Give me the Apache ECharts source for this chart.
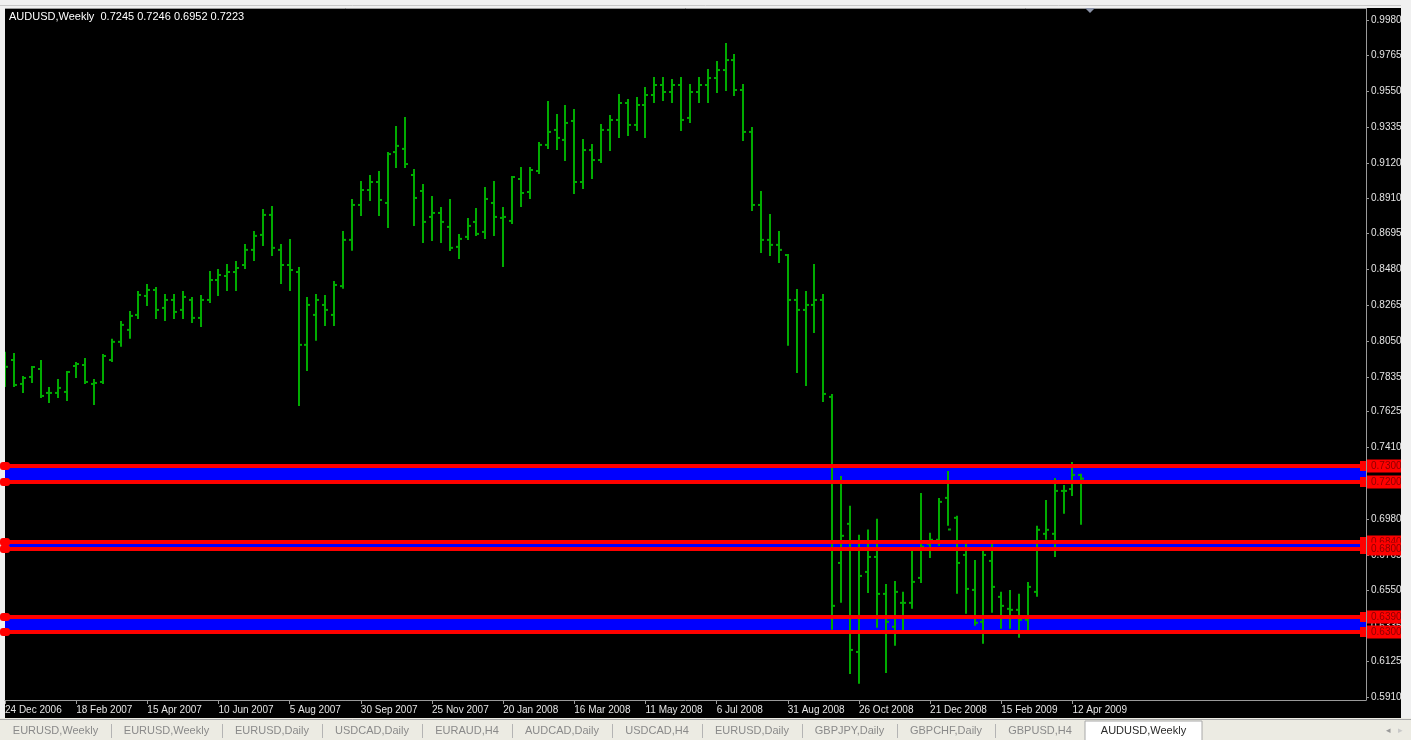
<!DOCTYPE html>
<html>
<head>
<meta charset="utf-8">
<title>AUDUSD,Weekly</title>
<script src="https://cdn.jsdelivr.net/npm/echarts@6/dist/echarts.min.js"></script>
<style>
  html, body { margin: 0; padding: 0; background: #f0f0f0; }
  #chart { width: 1411px; height: 740px; }
</style>
</head>
<body>
<div id="chart"></div>
<script>
// ---- instrument ----
const symbolName = 'AUDUSD';
const periodName = 'Weekly';

// ---- weekly bars, first bar = week of 24 Dec 2006 ----
const opens = [
  0.7880, 0.7936, 0.7792, 0.7834, 0.7882, 0.7738, 0.7738, 0.7744, 0.7900, 0.7906,
  0.7792, 0.7804, 0.7936, 0.8045, 0.8117, 0.8207, 0.8321, 0.8357, 0.8249, 0.8297,
  0.8237, 0.8297, 0.8189, 0.8297, 0.8417, 0.8441, 0.8465, 0.8507, 0.8598, 0.8688,
  0.8808, 0.8598, 0.8507, 0.8465, 0.8027, 0.8207, 0.8267, 0.8207, 0.8380, 0.8658,
  0.8868, 0.8958, 0.9006, 0.8880, 0.9186, 0.9205, 0.9048, 0.8952, 0.8796, 0.8820,
  0.8736, 0.8616, 0.8676, 0.8766, 0.8706, 0.8880, 0.8790, 0.8772, 0.9024, 0.8946,
  0.9072, 0.9229, 0.9319, 0.9259, 0.9373, 0.9006, 0.9198, 0.9138, 0.9319, 0.9379,
  0.9481, 0.9349, 0.9469, 0.9529, 0.9589, 0.9547, 0.9589, 0.9391, 0.9547, 0.9589,
  0.9631, 0.9679, 0.9739, 0.9559, 0.9307, 0.8868, 0.8658, 0.8628, 0.8567, 0.8297,
  0.8237, 0.8267, 0.8297, 0.7714, 0.6716, 0.6951, 0.6181, 0.6662, 0.6752, 0.6530,
  0.6332, 0.6476, 0.6476, 0.6626, 0.6831, 0.6855, 0.7107, 0.6987, 0.6764, 0.6554,
  0.6362, 0.6728, 0.6512, 0.6440, 0.6434, 0.6374, 0.6542, 0.6891, 0.6891, 0.7149,
  0.7160, 0.7245
];
const highs = [
  0.7980, 0.7972, 0.7834, 0.7894, 0.7930, 0.7768, 0.7816, 0.7864, 0.7918, 0.7942,
  0.7816, 0.7966, 0.8057, 0.8165, 0.8225, 0.8345, 0.8387, 0.8369, 0.8327, 0.8327,
  0.8345, 0.8309, 0.8321, 0.8465, 0.8477, 0.8507, 0.8525, 0.8628, 0.8706, 0.8838,
  0.8856, 0.8628, 0.8658, 0.8489, 0.8309, 0.8327, 0.8321, 0.8405, 0.8706, 0.8898,
  0.9006, 0.9042, 0.9066, 0.9180, 0.9337, 0.9391, 0.9078, 0.8988, 0.8916, 0.8850,
  0.8898, 0.8688, 0.8784, 0.8844, 0.8970, 0.9006, 0.8850, 0.9036, 0.9090, 0.9090,
  0.9241, 0.9487, 0.9409, 0.9463, 0.9439, 0.9259, 0.9229, 0.9349, 0.9403, 0.9529,
  0.9499, 0.9511, 0.9571, 0.9631, 0.9631, 0.9619, 0.9631, 0.9589, 0.9631, 0.9679,
  0.9727, 0.9836, 0.9769, 0.9589, 0.9331, 0.8946, 0.8808, 0.8706, 0.8567, 0.8357,
  0.8345, 0.8507, 0.8327, 0.7726, 0.7233, 0.7053, 0.6879, 0.6911, 0.6975, 0.6584,
  0.6602, 0.6536, 0.6782, 0.7131, 0.6891, 0.7101, 0.7263, 0.6993, 0.6837, 0.6728,
  0.6782, 0.6831, 0.6536, 0.6548, 0.6524, 0.6596, 0.6933, 0.7089, 0.7221, 0.7179,
  0.7317, 0.7246
];
const lows = [
  0.7780, 0.7780, 0.7744, 0.7804, 0.7714, 0.7684, 0.7714, 0.7696, 0.7834, 0.7798,
  0.7672, 0.7798, 0.7930, 0.8021, 0.8069, 0.8189, 0.8267, 0.8189, 0.8177, 0.8189,
  0.8189, 0.8165, 0.8141, 0.8285, 0.8327, 0.8357, 0.8357, 0.8489, 0.8537, 0.8628,
  0.8567, 0.8399, 0.8357, 0.7666, 0.7876, 0.8057, 0.8147, 0.8147, 0.8370, 0.8598,
  0.8808, 0.8898, 0.8808, 0.8736, 0.9096, 0.9096, 0.8748, 0.8646, 0.8658, 0.8646,
  0.8597, 0.8549, 0.8664, 0.8688, 0.8670, 0.8688, 0.8501, 0.8760, 0.8862, 0.8910,
  0.9060, 0.9211, 0.9205, 0.9138, 0.8940, 0.8970, 0.9030, 0.9126, 0.9198, 0.9277,
  0.9289, 0.9319, 0.9277, 0.9487, 0.9499, 0.9487, 0.9319, 0.9367, 0.9487, 0.9487,
  0.9547, 0.9559, 0.9529, 0.9259, 0.8838, 0.8585, 0.8567, 0.8525, 0.8027, 0.7864,
  0.7786, 0.8105, 0.7690, 0.6320, 0.6482, 0.6055, 0.5995, 0.6542, 0.6332, 0.6061,
  0.6224, 0.6302, 0.6446, 0.6602, 0.6752, 0.6825, 0.6945, 0.6536, 0.6416, 0.6344,
  0.6236, 0.6422, 0.6326, 0.6326, 0.6272, 0.6302, 0.6518, 0.6861, 0.6758, 0.7017,
  0.7125, 0.6952
];
const closes = [
  0.7895, 0.7786, 0.7828, 0.7894, 0.7720, 0.7738, 0.7768, 0.7864, 0.7912, 0.7804,
  0.7798, 0.7960, 0.8045, 0.8147, 0.8201, 0.8327, 0.8357, 0.8237, 0.8297, 0.8225,
  0.8315, 0.8189, 0.8297, 0.8417, 0.8447, 0.8465, 0.8489, 0.8598, 0.8682, 0.8808,
  0.8610, 0.8507, 0.8477, 0.8027, 0.8267, 0.8297, 0.8237, 0.8387, 0.8658, 0.8868,
  0.8958, 0.9006, 0.8898, 0.9174, 0.9223, 0.9114, 0.8910, 0.8766, 0.8820, 0.8766,
  0.8610, 0.8664, 0.8742, 0.8694, 0.8904, 0.8796, 0.8796, 0.9036, 0.8940, 0.9078,
  0.9229, 0.9307, 0.9271, 0.9361, 0.9006, 0.9198, 0.9138, 0.9319, 0.9379, 0.9481,
  0.9349, 0.9469, 0.9529, 0.9589, 0.9547, 0.9589, 0.9379, 0.9547, 0.9589, 0.9631,
  0.9679, 0.9739, 0.9559, 0.9307, 0.8868, 0.8658, 0.8628, 0.8598, 0.8297, 0.8237,
  0.8267, 0.8297, 0.7732, 0.6458, 0.6879, 0.6193, 0.6638, 0.6752, 0.6530, 0.6362,
  0.6542, 0.6476, 0.6602, 0.6813, 0.6855, 0.7083, 0.6917, 0.6716, 0.6560, 0.6356,
  0.6764, 0.6572, 0.6458, 0.6434, 0.6374, 0.6572, 0.6915, 0.6915, 0.7149, 0.7149,
  0.7245, 0.7223
];

// ---- axis tick labels ----
const dateTickLabels = [
  '24 Dec 2006', '18 Feb 2007', '15 Apr 2007', '10 Jun 2007', '5 Aug 2007',
  '30 Sep 2007', '25 Nov 2007', '20 Jan 2008', '16 Mar 2008', '11 May 2008',
  '6 Jul 2008', '31 Aug 2008', '26 Oct 2008', '21 Dec 2008', '15 Feb 2009', '12 Apr 2009'
];
const weeksPerDateTick = 8;
const priceTickLabels = [
  '0.9980', '0.9765', '0.9550', '0.9335', '0.9120', '0.8910', '0.8695', '0.8480',
  '0.8265', '0.8050', '0.7835', '0.7625', '0.7410', '0.7195', '0.6980', '0.6765',
  '0.6550', '0.6335', '0.6125', '0.5910'
];

// ---- support / resistance zones (upper and lower level of each) ----
const zoneTops = [0.7300, 0.6840, 0.6390];
const zoneBottoms = [0.7200, 0.6800, 0.6300];

// ---- terminal chart tabs ----
const tabNames = [
  'EURUSD,Weekly', 'EURUSD,Weekly', 'EURUSD,Daily', 'USDCAD,Daily', 'EURAUD,H4',
  'AUDCAD,Daily', 'USDCAD,H4', 'EURUSD,Daily', 'GBPJPY,Daily', 'GBPCHF,Daily',
  'GBPUSD,H4', 'AUDUSD,Weekly'
];
const activeTabIndex = 11;

// ---------------------------------------------------------------
const W = 1411, H = 740;
const axisSpanWeeks = 153;          // visible slots incl. empty space on the right
const barColor = '#00ab00';
const levelColor = '#ff0000';
const uiFont = '"Liberation Sans", Arial, sans-serif';

const ohlc = opens.map((o, i) => [i, o, highs[i], lows[i], closes[i]]);
const dateTickValues = dateTickLabels.map((_, k) => k * weeksPerDateTick);
const priceTickValues = priceTickLabels.map(Number);
const levelData = zoneTops.concat(zoneBottoms).map(v => [0, v]);
const last = ohlc.length - 1;
const headerText = symbolName + ',' + periodName + '  ' +
  [opens[last], highs[last], lows[last], closes[last]].map(v => v.toFixed(4)).join(' ');

// one OHLC bar: high-low stem, open tick to the left, close tick to the right
function renderBar(params, api) {
  const i = api.value(0);
  const p = api.coord([i, api.value(1)]);
  const x = Math.round(p[0]);
  const yo = p[1];
  const yh = api.coord([i, api.value(2)])[1];
  const yl = api.coord([i, api.value(3)])[1];
  const yc = api.coord([i, api.value(4)])[1];
  const st = () => ({ stroke: barColor, lineWidth: 2 });
  return {
    type: 'group',
    children: [
      { type: 'line', shape: { x1: x, y1: yh - 1, x2: x, y2: yl + 1 }, style: st() },
      { type: 'line', shape: { x1: x - 3, y1: yo, x2: x, y2: yo }, style: st() },
      { type: 'line', shape: { x1: x, y1: yc, x2: x + 3, y2: yc }, style: st() }
    ]
  };
}

// one horizontal price level across the whole plot, with its price tag on the axis
function renderLevel(params, api) {
  const v = api.value(1);
  const y = Math.round(api.coord([0, v])[1]);
  const cs = params.coordSys;
  const x0 = cs.x, x1 = cs.x + cs.width;
  return {
    type: 'group',
    children: [
      { type: 'line', shape: { x1: x0, y1: y, x2: x1, y2: y }, style: { stroke: levelColor, lineWidth: 4 } },
      { type: 'rect', shape: { x: x0 - 5, y: y - 4, width: 10, height: 8, r: 3 }, style: { fill: levelColor } },
      { type: 'rect', shape: { x: x1 - 6, y: y - 5, width: 6, height: 10 }, style: { fill: levelColor } },
      {
        type: 'text', x: x1 + 1, y: y,
        style: {
          text: v.toFixed(4), font: '10px ' + uiFont, fill: '#8a0000',
          backgroundColor: levelColor, padding: [2, 5, 1, 4],
          verticalAlign: 'middle', textVerticalAlign: 'middle'
        }
      }
    ]
  };
}

// tab strip at the bottom of the terminal window
const measureCtx = document.createElement('canvas').getContext('2d');
measureCtx.font = '11px ' + uiFont;
const tabElements = [];
let tabX = 0;
tabNames.forEach((name, k) => {
  const active = k === activeTabIndex;
  const w = Math.round(measureCtx.measureText(name).width) + (active ? 32 : 26);
  if (active) {
    tabElements.push({
      type: 'rect', z: 101,
      shape: { x: tabX, y: 721, width: w, height: 20 },
      style: { fill: '#ffffff', stroke: '#a8a8a8', lineWidth: 1 }
    });
  }
  tabElements.push({
    type: 'text', z: 102, x: tabX + w / 2, y: 731,
    style: {
      text: name, font: '11px ' + uiFont, fill: active ? '#2a2a2a' : '#8a8a8a',
      textAlign: 'center', textVerticalAlign: 'middle', align: 'center', verticalAlign: 'middle'
    }
  });
  if (!active && k + 1 !== activeTabIndex) {
    tabElements.push({
      type: 'line', z: 101,
      shape: { x1: tabX + w + 0.5, y1: 724, x2: tabX + w + 0.5, y2: 738 },
      style: { stroke: '#b4b4b4', lineWidth: 1 }
    });
  }
  tabX += w;
});

const chart = echarts.init(document.getElementById('chart'), null, { renderer: 'canvas', width: W, height: H });

chart.setOption({
  backgroundColor: '#000000',
  animation: false,
  grid: { left: 5, right: 45, top: 8, bottom: 40, show: false },
  xAxis: {
    type: 'value',
    min: 0,
    max: axisSpanWeeks,
    splitLine: { show: false },
    axisLine: { show: true, onZero: false, lineStyle: { color: '#9a9a9a', width: 1 } },
    axisTick: { show: true, customValues: dateTickValues, length: 4, lineStyle: { color: '#9a9a9a' } },
    axisLabel: {
      customValues: dateTickValues,
      formatter: v => dateTickLabels[Math.round(v / weeksPerDateTick)] || '',
      align: 'left',
      margin: 5,
      color: '#e4e4e4',
      fontSize: 10,
      fontFamily: uiFont
    }
  },
  yAxis: {
    type: 'value',
    position: 'right',
    min: 0.5892,
    max: 1.0052,
    splitLine: { show: false },
    axisLine: { show: true, onZero: false, lineStyle: { color: '#9a9a9a', width: 1 } },
    axisTick: { show: true, customValues: priceTickValues, length: 3, lineStyle: { color: '#9a9a9a' } },
    axisLabel: {
      customValues: priceTickValues,
      formatter: v => v.toFixed(4),
      margin: 5,
      color: '#e4e4e4',
      fontSize: 10,
      fontFamily: uiFont
    }
  },
  series: [
    {
      name: 'zones',
      type: 'line',
      data: [],
      z: 1,
      silent: true,
      markArea: {
        silent: true,
        itemStyle: { color: '#0000ff', opacity: 1 },
        label: { show: false },
        data: zoneTops.map((t, k) => [{ yAxis: t }, { yAxis: zoneBottoms[k] }])
      }
    },
    {
      name: symbolName,
      type: 'custom',
      renderItem: renderBar,
      data: ohlc,
      encode: { x: 0, y: [1, 2, 3, 4] },
      clip: true,
      z: 2,
      silent: true
    },
    {
      name: 'levels',
      type: 'custom',
      renderItem: renderLevel,
      data: levelData,
      encode: { x: 0, y: 1 },
      clip: false,
      z: 3,
      silent: true
    }
  ],
  graphic: [
    // window frame around the chart area
    { type: 'rect', z: 100, shape: { x: 0, y: 0, width: W, height: 8 }, style: { fill: '#f0f0f0' } },
    { type: 'line', z: 100, shape: { x1: 0, y1: 5.5, x2: W, y2: 5.5 }, style: { stroke: '#c8c8c8', lineWidth: 1 } },
    { type: 'line', z: 100, shape: { x1: 5, y1: 8.5, x2: 1366, y2: 8.5 }, style: { stroke: '#9a9a9a', lineWidth: 1 } },
    { type: 'rect', z: 0, shape: { x: 0, y: 0, width: 5, height: 720 }, style: { fill: '#f0f0f0' } },
    { type: 'rect', z: 100, shape: { x: 1401, y: 0, width: 10, height: 720 }, style: { fill: '#f0f0f0' } },
    { type: 'rect', z: 100, shape: { x: 0, y: 718, width: W, height: 22 }, style: { fill: '#ecebe3' } },
    { type: 'line', z: 100, shape: { x1: 0, y1: 719.5, x2: W, y2: 719.5 }, style: { stroke: '#a8a8a8', lineWidth: 1 } },
    // chart shift marker
    { type: 'polygon', z: 100, shape: { points: [[1085, 8], [1095, 8], [1090, 13]] }, style: { fill: '#8c94a8' } },
    // symbol, period and last bar prices
    {
      type: 'text', z: 100, x: 9, y: 11,
      style: { text: headerText, font: '11px ' + uiFont, fill: '#ffffff' }
    },
    // tab scroll arrows
    { type: 'text', z: 102, x: 1386, y: 731, style: { text: '\u25C2', font: '9px ' + uiFont, fill: '#9a9a9a', textVerticalAlign: 'middle', verticalAlign: 'middle' } },
    { type: 'text', z: 102, x: 1398, y: 731, style: { text: '\u25B8', font: '9px ' + uiFont, fill: '#c8c8c8', textVerticalAlign: 'middle', verticalAlign: 'middle' } }
  ].concat(tabElements)
});
</script>
</body>
</html>
